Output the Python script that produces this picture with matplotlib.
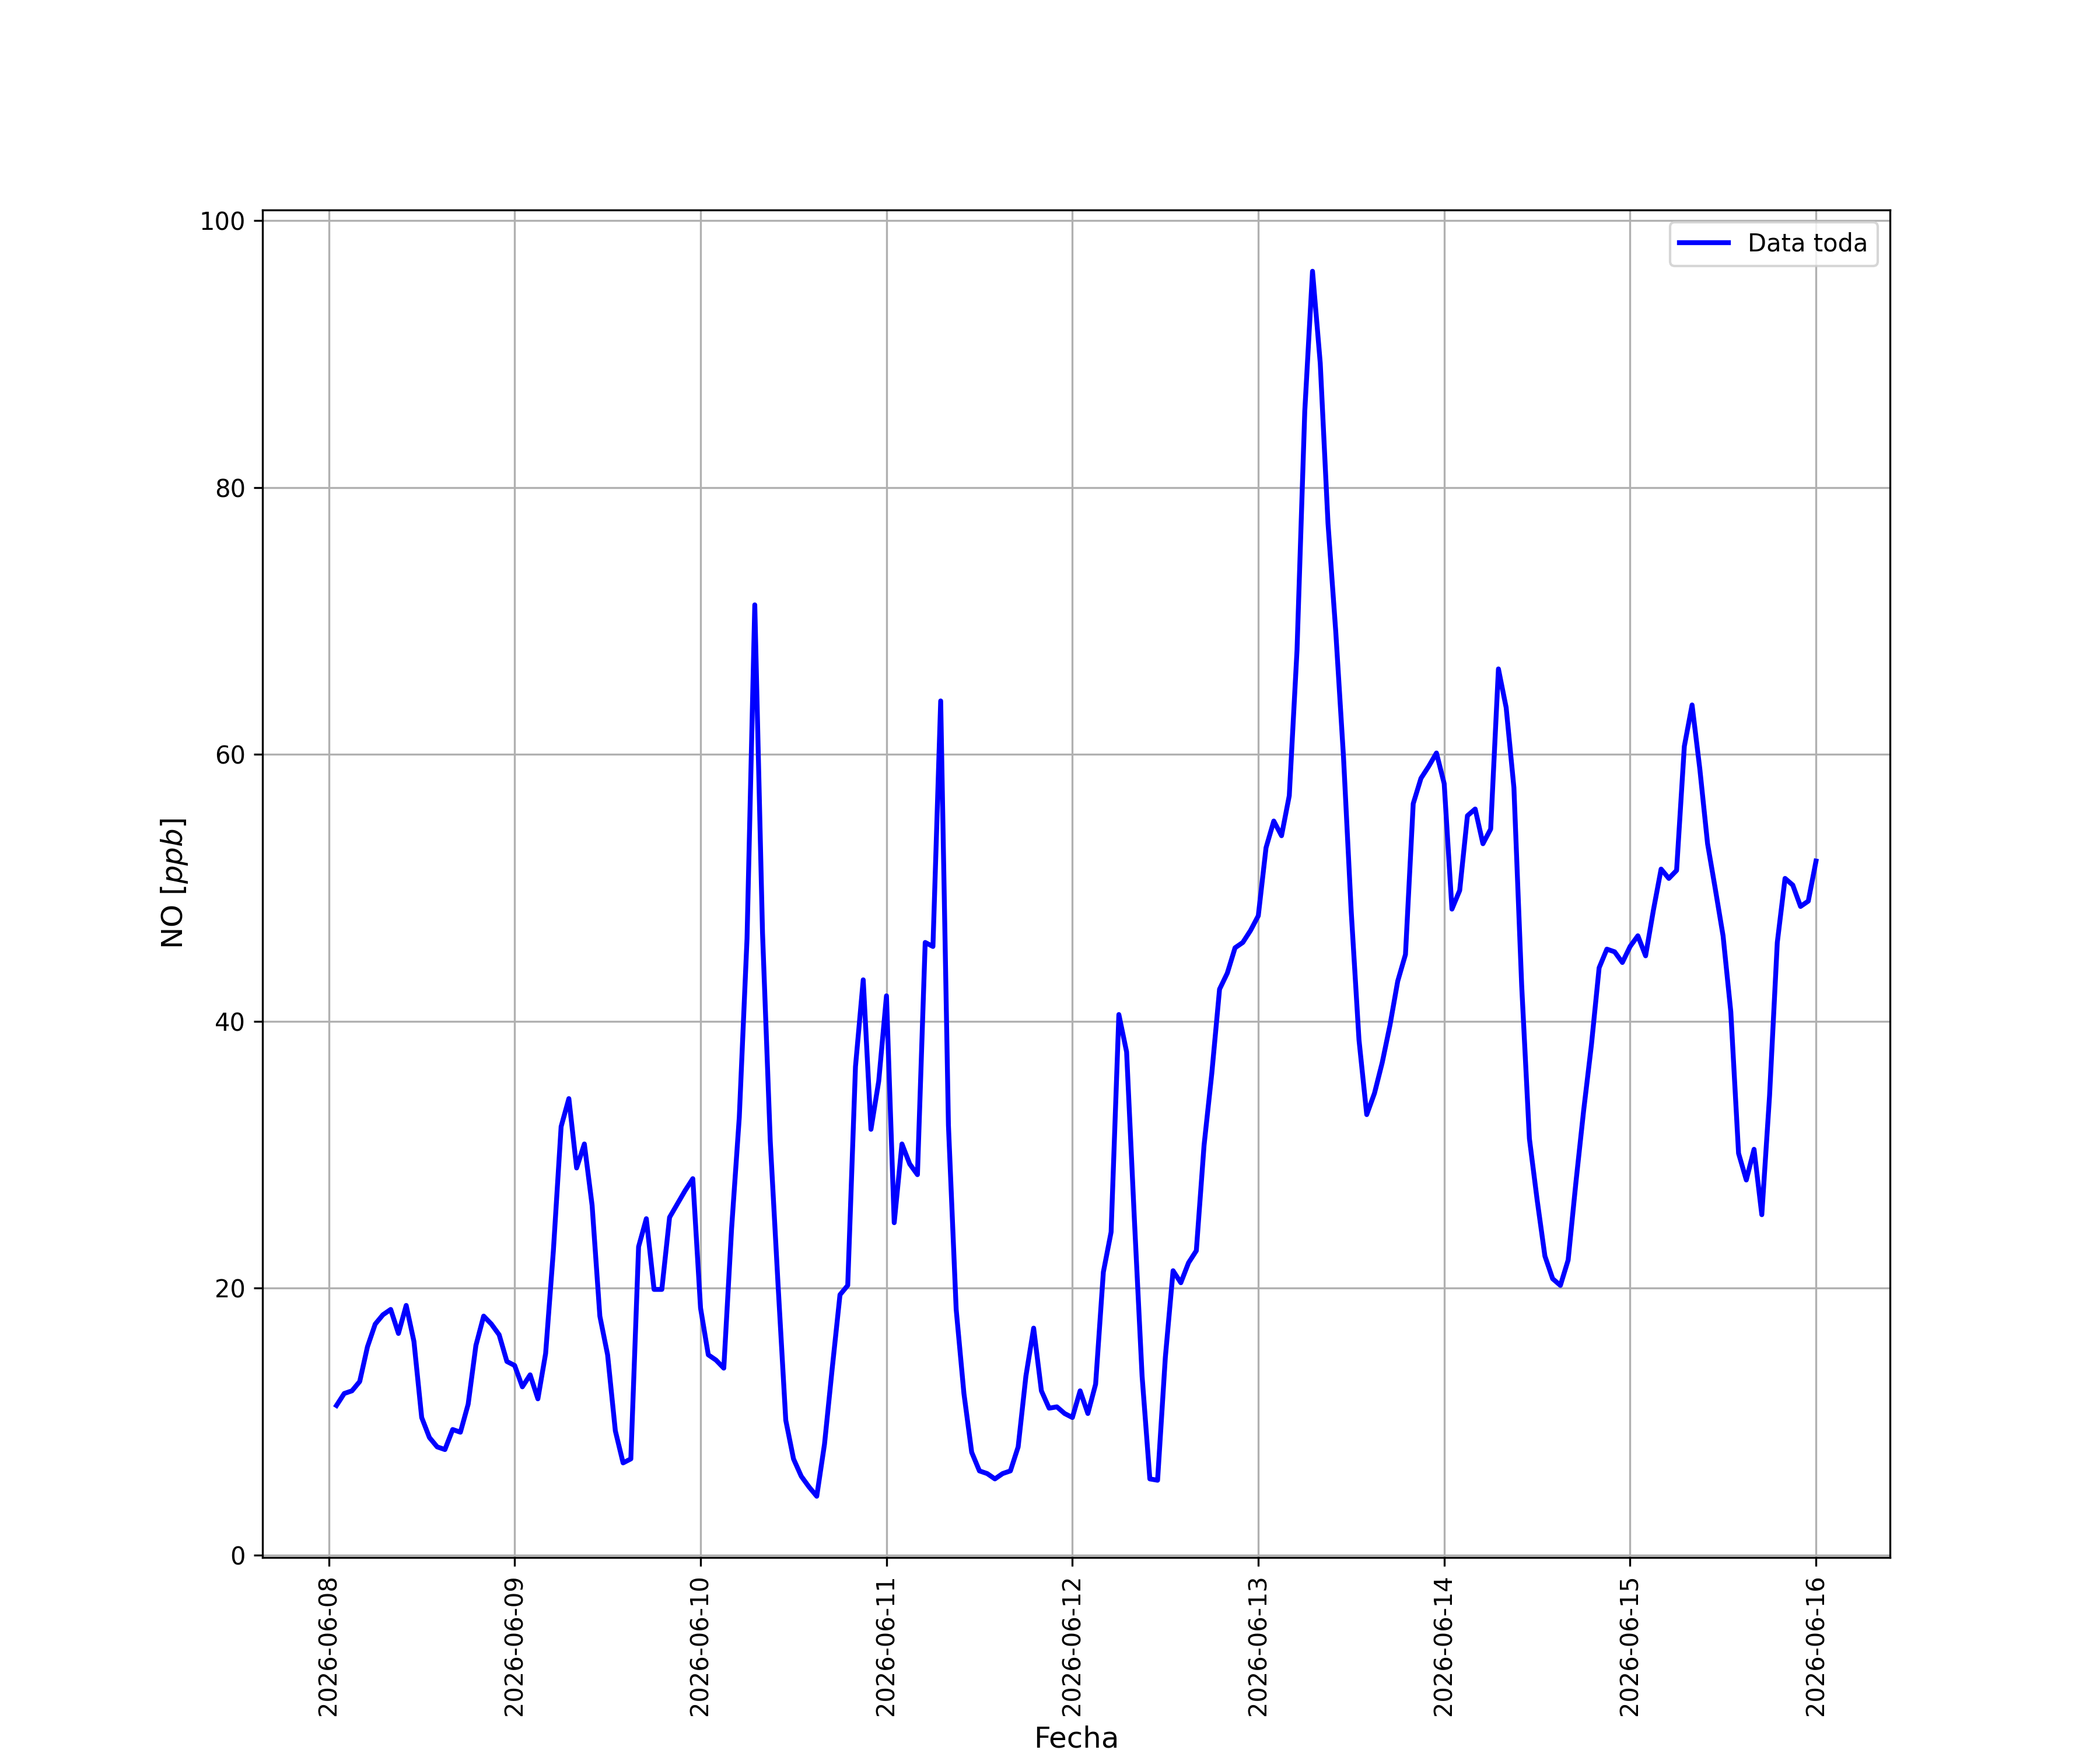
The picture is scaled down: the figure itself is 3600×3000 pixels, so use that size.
import pandas as pd
import matplotlib
matplotlib.use("Agg")
import matplotlib.pyplot as plt

# valores horarios de NO [ppb], desde 2026-06-08 01:00 hasta 2026-06-16 00:00
dia_08 = [11.2, 12.1, 12.3, 13.0, 15.6, 17.3, 18.0, 18.4, 16.6, 18.7, 16.0, 10.3,
          8.8, 8.1, 7.9, 9.4, 9.2, 11.3, 15.7, 17.9, 17.3, 16.5, 14.5]
dia_09 = [14.2, 12.6, 13.5, 11.7, 15.1, 22.8, 32.1, 34.2, 29.0, 30.8, 26.2, 17.9,
          15.0, 9.3, 6.9, 7.2, 23.1, 25.2, 19.9, 19.9, 25.3, 26.3, 27.3, 28.2]
dia_10 = [18.5, 15.0, 14.6, 14.0, 24.4, 32.8, 46.2, 71.2, 46.6, 31.0, 20.3, 10.1,
          7.2, 5.9, 5.1, 4.4, 8.3, 14.0, 19.5, 20.2, 36.6, 43.1, 31.9, 35.5]
dia_11 = [41.9, 24.9, 30.8, 29.3, 28.5, 45.9, 45.6, 64.0, 32.2, 18.4, 12.1, 7.7,
          6.3, 6.1, 5.7, 6.1, 6.3, 8.1, 13.4, 17.0, 12.3, 11.0, 11.1, 10.6]
dia_12 = [10.3, 12.3, 10.6, 12.8, 21.2, 24.2, 40.5, 37.7, 25.2, 13.4, 5.7, 5.6,
          14.8, 21.3, 20.4, 21.9, 22.8, 30.7, 36.1, 42.4, 43.6, 45.5, 45.9, 46.8]
dia_13 = [47.9, 53.0, 55.0, 53.9, 56.9, 67.8, 85.7, 96.2, 89.3, 77.3, 69.2, 59.8,
          48.2, 38.6, 33.0, 34.6, 36.9, 39.7, 43.0, 45.0, 56.3, 58.2, 59.1, 60.1]
dia_14 = [57.8, 48.4, 49.8, 55.4, 55.9, 53.3, 54.4, 66.4, 63.5, 57.5, 42.7, 31.2,
          26.6, 22.4, 20.7, 20.2, 22.1, 27.9, 33.3, 38.2, 44.0, 45.4, 45.2, 44.4]
dia_15 = [45.6, 46.4, 44.9, 48.3, 51.4, 50.7, 51.3, 60.6, 63.7, 58.9, 53.3, 49.9,
          46.4, 40.7, 30.1, 28.1, 30.4, 25.5, 34.4, 45.9, 50.7, 50.2, 48.6, 49.0]
dia_16 = [52.0]

valores = dia_08 + dia_09 + dia_10 + dia_11 + dia_12 + dia_13 + dia_14 + dia_15 + dia_16
fechas = pd.date_range("2026-06-08 01:00", periods=len(valores), freq="h")

plt.figure(figsize=(12, 10))
plt.plot(fechas, valores, color="blue", linewidth=2, label="Data toda")
plt.xlabel("Fecha", fontsize=12)
plt.ylabel("NO [$ppb$]", fontsize=12)
plt.xticks(rotation=90)
plt.grid(True)
plt.legend(loc="upper right")
plt.savefig("out.png", dpi=300)
